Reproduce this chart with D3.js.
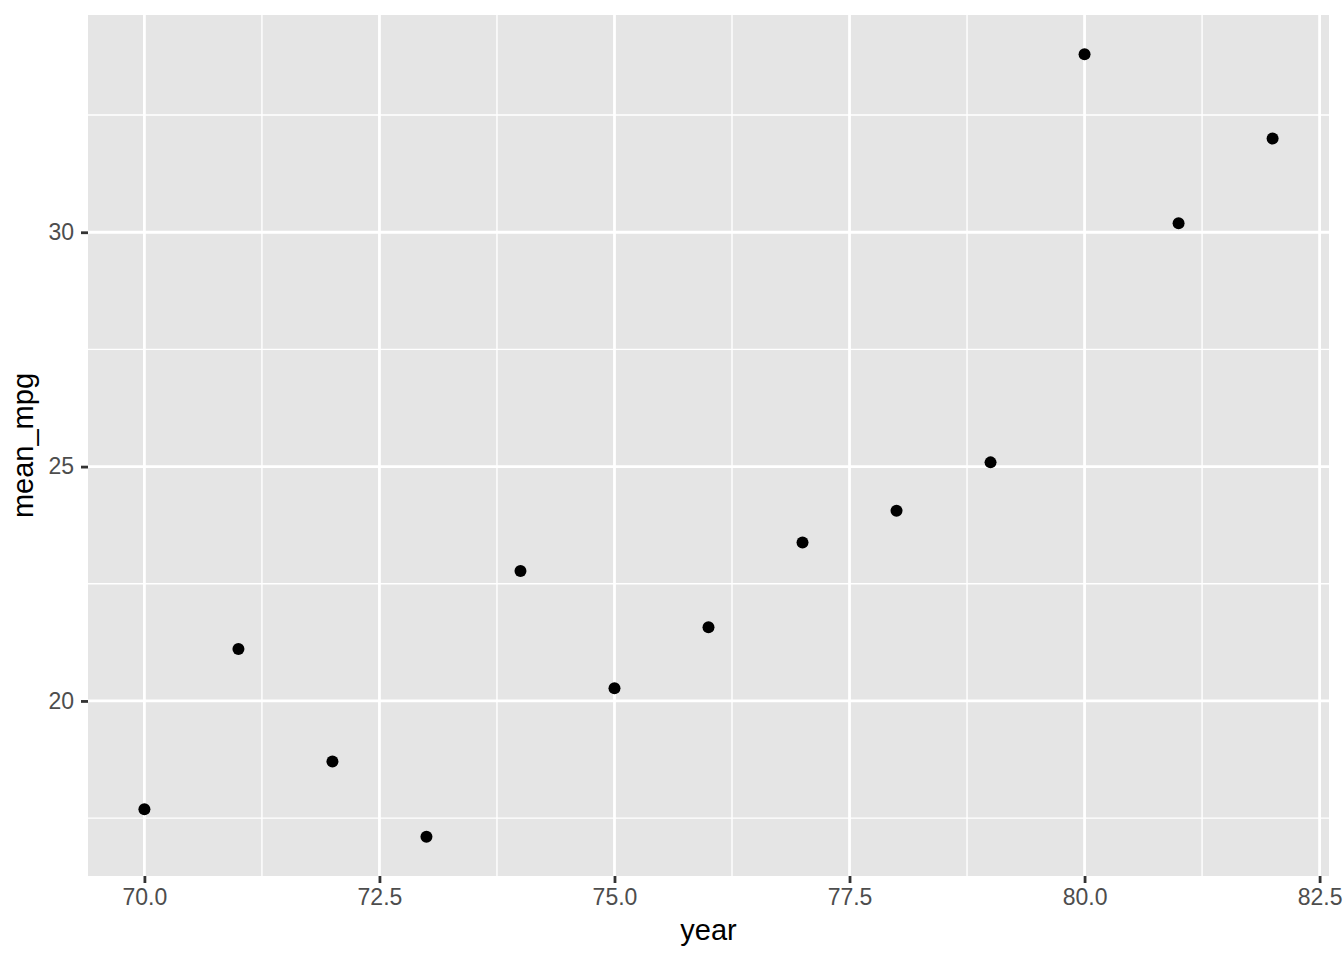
<!DOCTYPE html>
<html>
<head>
<meta charset="utf-8">
<script src="https://cdn.jsdelivr.net/npm/d3@7"></script>
<style>
  body { margin: 0; background: #fff; }
  text { font-family: "Liberation Sans", Arial, Helvetica, sans-serif; }
</style>
</head>
<body>
<div id="container"></div>
<script>
const w = 1344,
    h = 960;

// mean mpg per model year
const years = [70, 71, 72, 73, 74, 75, 76, 77, 78, 79, 80, 81, 82];
const meanMpg = [17.69, 21.11, 18.71, 17.10, 22.77, 20.27, 21.57, 23.38, 24.06, 25.09, 33.80, 30.19, 32.00];

const xTicks = [70, 72.5, 75, 77.5, 80, 82.5];
const xMinor = [71.25, 73.75, 76.25, 78.75, 81.25];
const yTicks = [20, 25, 30];
const yMinor = [17.5, 22.5, 27.5, 32.5];

const panel = {left: 88, right: 1329, top: 15, bottom: 876};

var svg = d3.select("div#container")
    .append("svg")
    .attr("width", w)
    .attr("height", h);

// ggplot style 5% expansion
var xExt = d3.extent(years), xPad = (xExt[1] - xExt[0]) * 0.05;
var yExt = d3.extent(meanMpg), yPad = (yExt[1] - yExt[0]) * 0.05;

var x = d3.scaleLinear()
    .domain([xExt[0] - xPad, xExt[1] + xPad])
    .range([panel.left, panel.right]);
var y = d3.scaleLinear()
    .domain([yExt[0] - yPad, yExt[1] + yPad])
    .range([panel.bottom, panel.top]);

svg.append("rect")
    .attr("x", panel.left)
    .attr("y", panel.top)
    .attr("width", panel.right - panel.left)
    .attr("height", panel.bottom - panel.top)
    .style("fill", "#E5E5E5");

var grid = svg.append("g").style("stroke", "#fff");
grid.selectAll(".xminor").data(xMinor).enter().append("line")
    .attr("x1", d => x(d)).attr("x2", d => x(d))
    .attr("y1", panel.top).attr("y2", panel.bottom)
    .style("stroke-width", 1.4);
grid.selectAll(".yminor").data(yMinor).enter().append("line")
    .attr("y1", d => y(d)).attr("y2", d => y(d))
    .attr("x1", panel.left).attr("x2", panel.right)
    .style("stroke-width", 1.4);
grid.selectAll(".xmajor").data(xTicks).enter().append("line")
    .attr("x1", d => x(d)).attr("x2", d => x(d))
    .attr("y1", panel.top).attr("y2", panel.bottom)
    .style("stroke-width", 2.8);
grid.selectAll(".ymajor").data(yTicks).enter().append("line")
    .attr("y1", d => y(d)).attr("y2", d => y(d))
    .attr("x1", panel.left).attr("x2", panel.right)
    .style("stroke-width", 2.8);

// points
svg.append("g")
    .selectAll("circle")
    .data(years)
    .enter()
    .append("circle")
    .attr("cx", d => x(d))
    .attr("cy", (d, i) => y(meanMpg[i]))
    .attr("r", 6)
    .style("fill", "#000");

// axes
var xAxis = svg.append("g")
    .attr("transform", "translate(0," + panel.bottom + ")")
    .call(d3.axisBottom(x).tickValues(xTicks).tickFormat(d3.format(".1f")).tickSize(7).tickPadding(6));
var yAxis = svg.append("g")
    .attr("transform", "translate(" + panel.left + ",0)")
    .call(d3.axisLeft(y).tickValues(yTicks).tickFormat(d3.format("d")).tickSize(7).tickPadding(7));

[xAxis, yAxis].forEach(function (a) {
    a.select(".domain").remove();
    a.selectAll(".tick line").style("stroke", "#333333").style("stroke-width", 2.8);
    a.selectAll(".tick text")
        .style("fill", "#4D4D4D")
        .style("font-size", "23px")
        .style("font-family", "'Liberation Sans', Arial, Helvetica, sans-serif");
});

svg.append("text")
    .attr("x", (panel.left + panel.right) / 2)
    .attr("y", 940)
    .attr("text-anchor", "middle")
    .style("font-size", "29px")
    .style("fill", "#000")
    .text("year");

svg.append("text")
    .attr("transform", "translate(33," + ((panel.top + panel.bottom) / 2) + ") rotate(-90)")
    .attr("text-anchor", "middle")
    .style("font-size", "29px")
    .style("fill", "#000")
    .text("mean_mpg");
</script>
</body>
</html>
